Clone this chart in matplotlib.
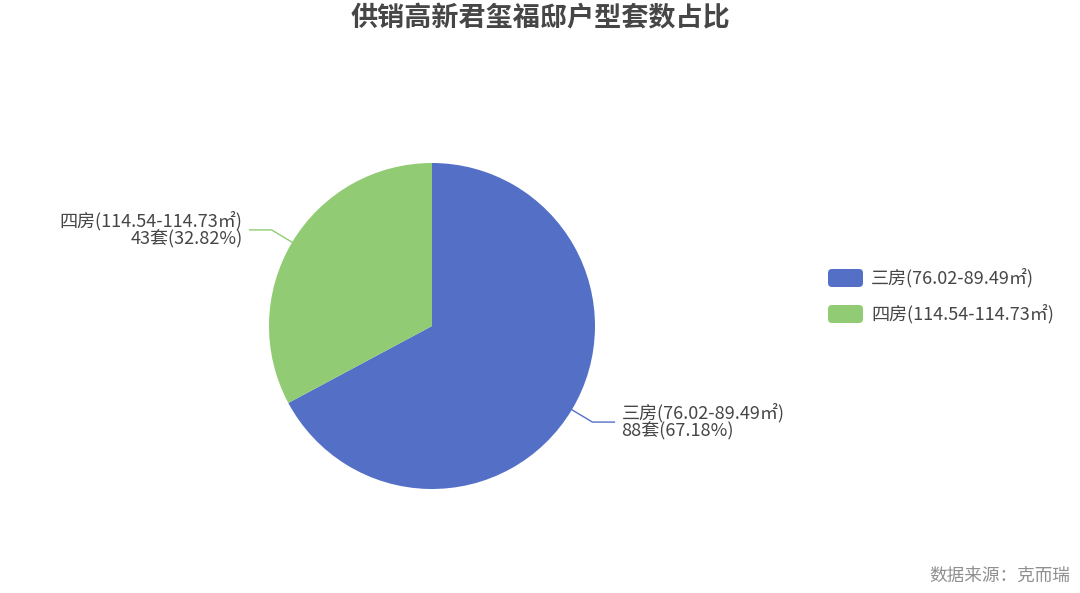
import numpy as np
import matplotlib
matplotlib.use("Agg")
import matplotlib.pyplot as plt
from matplotlib.patches import FancyBboxPatch

plt.rcParams['font.family'] = ['Noto Sans CJK SC', 'DejaVu Sans']

# 数据
title = '供销高新君玺福邸户型套数占比'
categories = ['三房(76.02-89.49㎡)', '四房(114.54-114.73㎡)']
counts = [88, 43]
percents = ['67.18%', '32.82%']
colors = ['#5470c6', '#91cc75']
source = '数据来源：克而瑞'

W, H = 1080, 593
fig = plt.figure(figsize=(W / 100, H / 100), dpi=100)
ax = fig.add_axes([0, 0, 1, 1])

cx, cy, r = 432, H - 326, 163
wedges, _ = ax.pie(counts, colors=colors, startangle=90, counterclock=False,
                   center=(cx, cy), radius=r, frame=True,
                   wedgeprops=dict(linewidth=0))
ax.set_xlim(0, W)
ax.set_ylim(0, H)
ax.set_aspect('equal')
ax.axis('off')

txt_color = '#464646'
for w, cat, n, p, col in zip(wedges, categories, counts, percents, colors):
    ang = np.deg2rad((w.theta1 + w.theta2) / 2)
    x0, y0 = cx + r * np.cos(ang), cy + r * np.sin(ang)
    x1, y1 = cx + (r + 24) * np.cos(ang), cy + (r + 24) * np.sin(ang)
    sgn = 1 if np.cos(ang) >= 0 else -1
    x2 = x1 + sgn * 22
    ax.plot([x0, x1, x2], [y0, y1, y1], color=col, lw=1)
    ax.text(x2 + sgn * 7, y1, f'{cat}\n{n}套({p})', ha='left' if sgn > 0 else 'right',
            va='center', fontsize=13, color=txt_color, linespacing=0.95)

# 图例
for i, (cat, col) in enumerate(zip(categories, colors)):
    ly = H - 278 - i * 36
    ax.add_patch(FancyBboxPatch((828, ly - 9), 35, 18,
                                boxstyle='round,pad=0,rounding_size=4',
                                fc=col, ec='none'))
    ax.text(871, ly, cat, ha='left', va='center', fontsize=13, color=txt_color)

fig.text(0.5, 1 - 18 / H, title, ha='center', va='center', fontsize=19.5,
         fontweight='bold', color='#464646')
fig.text(1 - 10 / W, 1 - 576 / H, source, ha='right', va='center',
         fontsize=12.7, color='#8f8f8f')

fig.savefig('out.png', dpi=100)
